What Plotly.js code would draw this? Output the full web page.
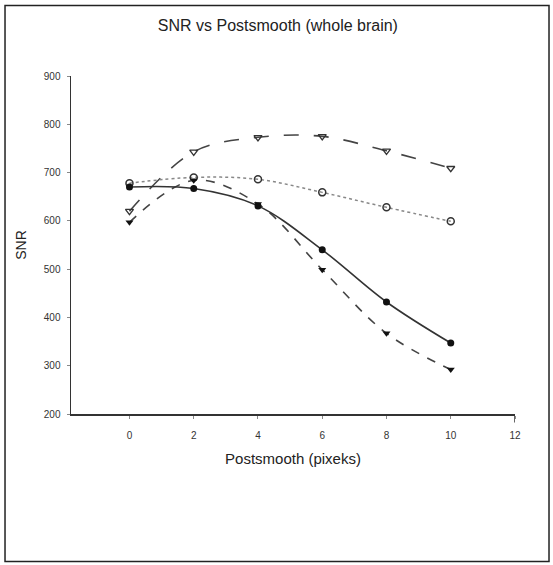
<!DOCTYPE html>
<html>
<head>
<meta charset="utf-8">
<script src="https://cdn.plot.ly/plotly-3.0.1.min.js"></script>
<style>html,body{margin:0;padding:0;background:#fff;}#chart{width:553px;height:565px;}</style>
</head>
<body>
<div id="chart"></div>
<script>
var xValues = [0, 2, 4, 6, 8, 10];
var filledCircle = [670, 667, 631, 540, 432, 347];
var filledTriangle = [597, 684, 635, 499, 367, 292];
var openCircle = [678, 690, 686, 659, 628, 599];
var openTriangle = [620, 743, 773, 775, 745, 709];
var xTicks = [0, 2, 4, 6, 8, 10, 12];
var yTicks = [200, 300, 400, 500, 600, 700, 800, 900];

var traces = [
  {x: xValues, y: openTriangle, mode: 'lines+markers', line: {color: '#444', width: 1.6, dash: 'longdash', shape: 'spline'},
   marker: {symbol: 'triangle-down-open', size: 7, color: '#333', line: {width: 1.3}}},
  {x: xValues, y: openCircle, mode: 'lines+markers', line: {color: '#888', width: 1.5, dash: 'dot', shape: 'spline'},
   marker: {symbol: 'circle-open', size: 7, color: '#333', line: {width: 1.5}}},
  {x: xValues, y: filledTriangle, mode: 'lines+markers', line: {color: '#444', width: 1.6, dash: 'dash', shape: 'spline'},
   marker: {symbol: 'triangle-down', size: 7, color: '#111'}},
  {x: xValues, y: filledCircle, mode: 'lines+markers', line: {color: '#333', width: 1.6, shape: 'spline'},
   marker: {symbol: 'circle', size: 7, color: '#111'}}
];

var layout = {
  width: 553, height: 565,
  margin: {l: 71, r: 38, t: 76, b: 151},
  paper_bgcolor: '#fff', plot_bgcolor: '#fff',
  showlegend: false,
  font: {family: 'Liberation Sans, Arial, sans-serif', color: '#222'},
  title: {text: 'SNR vs Postsmooth (whole brain)', font: {size: 16, color: '#222'}, x: 0.466, xref: 'paper', y: 0.955, yref: 'container', xanchor: 'center', yanchor: 'middle'},
  xaxis: {range: [-1.82, 12], tickvals: xTicks, ticktext: xTicks.map(String), showgrid: false, zeroline: false,
    showline: true, linecolor: '#333', linewidth: 1.5, ticks: 'outside', ticklen: 3, tickcolor: '#888',
    ticklabelstandoff: 8,
    tickfont: {size: 10, color: '#333'},
    title: {text: 'Postsmooth (pixeks)', font: {size: 15, color: '#222'}, standoff: 14}},
  yaxis: {range: [200, 900], tickvals: yTicks, ticktext: yTicks.map(String), showgrid: false, zeroline: false,
    showline: true, linecolor: '#333', linewidth: 1.5, ticks: 'outside', ticklen: 3, tickcolor: '#888',
    ticklabelstandoff: 4,
    tickfont: {size: 10, color: '#333'},
    title: {text: 'SNR', font: {size: 14, color: '#222'}, standoff: 14}},
  shapes: [
    {type: 'rect', xref: 'paper', yref: 'paper', x0: -0.1486, x1: 1.0766, y0: -0.4362, y1: 1.2088,
     line: {color: '#222', width: 1.5}, fillcolor: 'rgba(0,0,0,0)'},
    {type: 'line', xref: 'x', yref: 'paper', x0: 12, x1: 12, y0: 0, y1: -0.025, line: {color: '#333', width: 1.5}}
  ]
};

Plotly.newPlot('chart', traces, layout, {staticPlot: true, displayModeBar: false});
</script>
</body>
</html>
